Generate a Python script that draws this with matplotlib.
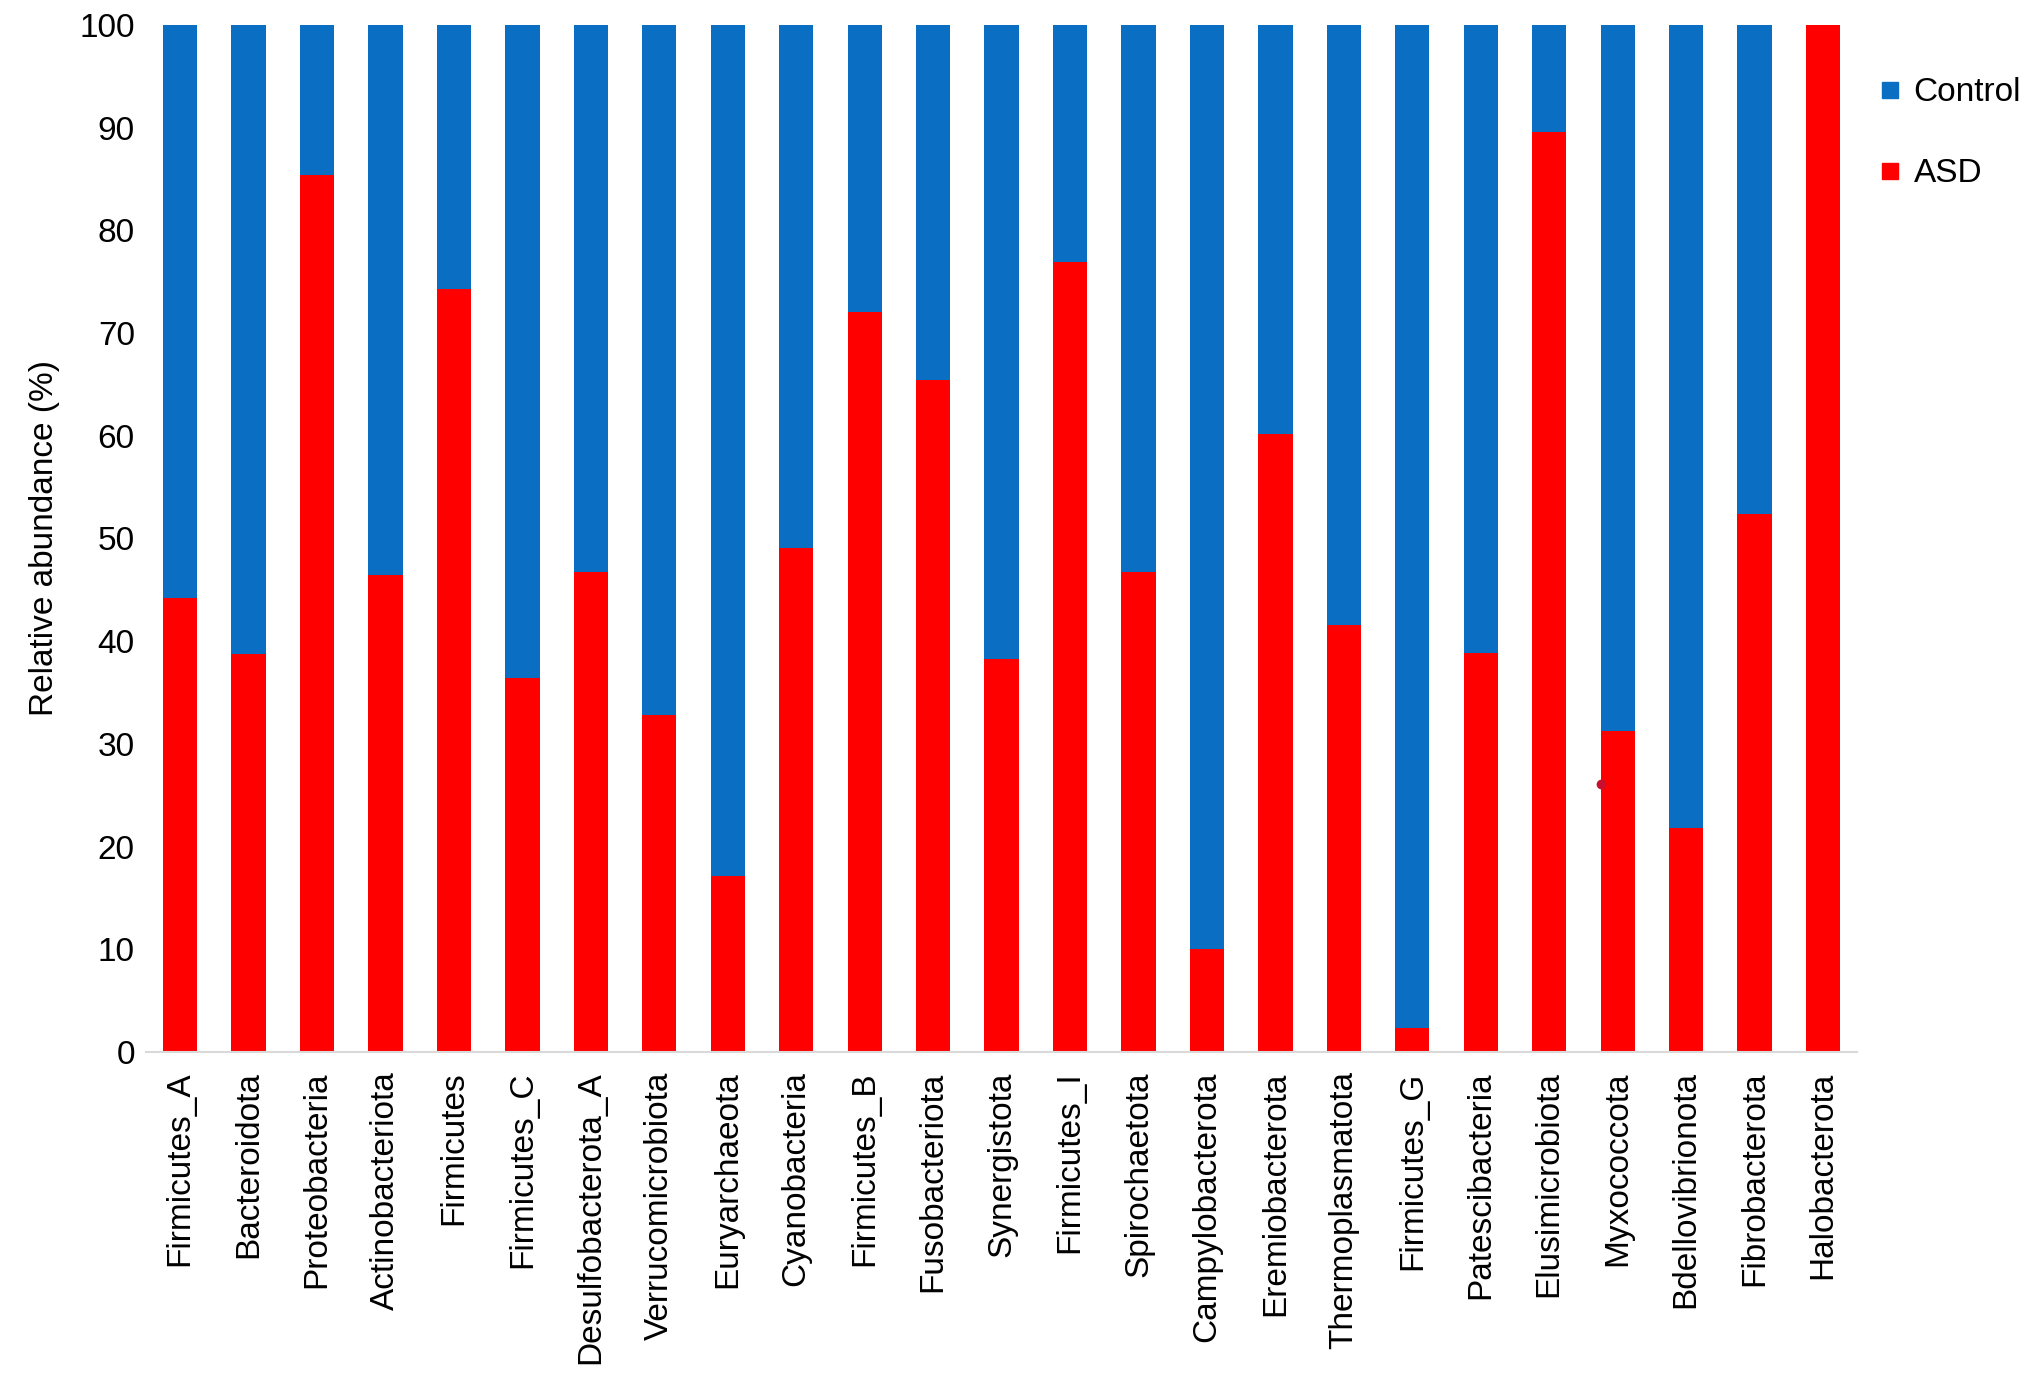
import matplotlib
matplotlib.use("Agg")
import matplotlib.pyplot as plt
from matplotlib.lines import Line2D
import numpy as np

plt.rcParams['font.family'] = ['Liberation Sans', 'DejaVu Sans']

phyla = ["Firmicutes_A", "Bacteroidota", "Proteobacteria", "Actinobacteriota",
         "Firmicutes", "Firmicutes_C", "Desulfobacterota_A", "Verrucomicrobiota",
         "Euryarchaeota", "Cyanobacteria", "Firmicutes_B", "Fusobacteriota",
         "Synergistota", "Firmicutes_I", "Spirochaetota", "Campylobacterota",
         "Eremiobacterota", "Thermoplasmatota", "Firmicutes_G", "Patescibacteria",
         "Elusimicrobiota", "Myxococcota", "Bdellovibrionota", "Fibrobacterota",
         "Halobacterota"]
asd = [44.2, 38.7, 85.4, 46.4, 74.3, 36.4, 46.7, 32.8, 17.1, 49.1, 72.0, 65.4,
       38.3, 76.9, 46.7, 10.0, 60.2, 41.6, 2.3, 38.8, 89.6, 31.2, 21.8, 52.4, 100.0]
control = [100 - v for v in asd]

# stray dot next to the Myxococcota bar
dot_phylum = "Myxococcota"
dot_value = 26.1

blue = "#0A6FC2"
red = "#FF0000"
width = 0.5

fig = plt.figure(figsize=(20.32, 13.83), dpi=100)
ax = fig.add_axes([0.0718, 0.2394, 0.8422, 0.7426])

x = np.arange(len(phyla))
ax.bar(x, asd, width, color=red, label="ASD")
ax.bar(x, control, width, bottom=asd, color=blue, label="Control")

i = phyla.index(dot_phylum)
ax.plot([i - width / 2], [dot_value], marker="o", markersize=6,
        color="#c8102e", linestyle="none")

ax.set_xlim(-0.5, len(phyla) - 0.5)
ax.set_ylim(0, 100)
ax.set_yticks(range(0, 101, 10))
ax.set_xticks(x)
ax.set_xticklabels(phyla, rotation=90, fontsize=24)
ax.tick_params(axis="y", labelsize=24, length=0, pad=8)
ax.tick_params(axis="x", length=0, pad=14)
ax.set_ylabel("Relative abundance (%)", fontsize=24, labelpad=14)

for s in ["top", "right", "left"]:
    ax.spines[s].set_visible(False)
ax.spines["bottom"].set_color("#d9d9d9")
ax.spines["bottom"].set_linewidth(1.5)

handles = [Line2D([], [], marker="s", linestyle="none", markersize=12, color=blue),
           Line2D([], [], marker="s", linestyle="none", markersize=12, color=red)]
fig.legend(handles, ["Control", "ASD"], loc="upper left",
           bbox_to_anchor=(0.9245, 0.944), frameon=False, fontsize=24,
           handlelength=0.7, handletextpad=0.35, labelspacing=1.5,
           borderpad=0, borderaxespad=0)

fig.savefig("out.png", dpi=100)
